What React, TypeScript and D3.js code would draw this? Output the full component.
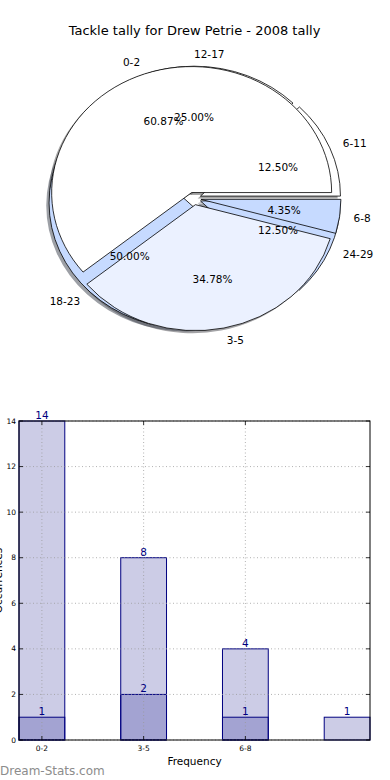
import * as d3 from "d3";

// pie 1 (drawn on top)
const pieALabels = ["0-2", "3-5", "6-8"];
const pieAValues = [14, 8, 1];
const pieAColors = ["#ffffff", "#ebf1ff", "#c6daff"];

// pie 2 (drawn underneath)
const pieBLabels = ["6-11", "12-17", "18-23", "24-29"];
const pieBValues = [1, 2, 4, 1];
const pieBColors = ["#ffffff", "#ffffff", "#c6daff", "#c6daff"];

// bars
const barLabels = ["0-2", "3-5", "6-8", ""];
const barTotals = [14, 8, 4, 1];
const barInner = [1, 2, 1];
const yTicks = [0, 2, 4, 6, 8, 10, 12, 14];

const FONT = "DejaVu Sans, Verdana, sans-serif";
const NAVY = "#000080";

const W = 390;
const H = 780;

// pie geometry (matplotlib style: ellipse because the axes is not square)
const cx = 194;
const cy = 198.5;
const rx = 140;
const ry = 126;
const k = ry / rx;
const explode = 0.05;

type Wedge = {
  label: string;
  value: number;
  pct: string;
  color: string;
  t1: number;
  t2: number;
  tm: number;
};

function wedges(values: number[], labels: string[], colors: string[]): Wedge[] {
  const total = d3.sum(values);
  const arcs = d3
    .pie<number>()
    .sort(null)
    .startAngle(0)
    .endAngle(2 * Math.PI)(values);
  return arcs.map((a, i) => ({
    label: labels[i],
    value: values[i],
    pct: ((values[i] / total) * 100).toFixed(2) + "%",
    color: colors[i],
    t1: a.startAngle,
    t2: a.endAngle,
    tm: (a.startAngle + a.endAngle) / 2,
  }));
}

const arcGen = d3.arc<any>();

function wedgePath(w: Wedge) {
  // matplotlib angles start at 3 o'clock and go counter-clockwise
  return arcGen({
    innerRadius: 0,
    outerRadius: rx,
    startAngle: Math.PI / 2 - w.t1,
    endAngle: Math.PI / 2 - w.t2,
  }) as string;
}

function shadowColor(c: string) {
  const col = d3.rgb(c);
  return d3.rgb(col.r * 0.3, col.g * 0.3, col.b * 0.3).toString();
}

function Pie() {
  const a = wedges(pieAValues, pieALabels, pieAColors);
  const b = wedges(pieBValues, pieBLabels, pieBColors);
  const all = [...a, ...b];

  const off = (w: Wedge) =>
    `translate(${explode * rx * Math.cos(w.tm)},${-explode * rx * Math.sin(w.tm)})`;

  return (
    <g>
      <g transform={`translate(${cx},${cy}) scale(1,${k})`}>
        {/* shadows below every wedge */}
        {all.map((w, i) => (
          <path
            key={"s" + i}
            transform={`translate(${-0.02 * rx},${0.02 * rx}) ${off(w)}`}
            d={wedgePath(w)}
            fill={shadowColor(w.color)}
            fillOpacity={0.5}
          />
        ))}
        {[...b, ...a].map((w, i) => (
          <path
            key={"w" + i}
            transform={off(w)}
            d={wedgePath(w)}
            fill={w.color}
            stroke="#000"
            strokeWidth={0.8}
            vectorEffect="non-scaling-stroke"
          />
        ))}
      </g>
      {all.map((w, i) => {
        const c = Math.cos(w.tm);
        const s = Math.sin(w.tm);
        return (
          <g key={"t" + i} fontFamily={FONT} fontSize={10.5} fill="#000">
            <text
              x={cx + (1.1 + explode) * rx * c}
              y={cy - (1.1 + explode) * ry * s}
              textAnchor={c > 0 ? "start" : "end"}
              dominantBaseline="central"
            >
              {w.label}
            </text>
            <text
              x={cx + (0.6 + explode) * rx * c}
              y={cy - (0.6 + explode) * ry * s}
              textAnchor="middle"
              dominantBaseline="central"
            >
              {w.pct}
            </text>
          </g>
        );
      })}
    </g>
  );
}

function Bars() {
  const left = 19;
  const right = 370;
  const top = 421;
  const bottom = 740;
  const bw = 0.45;

  const x = d3
    .scaleLinear()
    .domain([-bw / 2, barTotals.length - 1 + bw / 2])
    .range([left, right]);
  const y = d3.scaleLinear().domain([0, 14]).range([bottom, top]);
  const tickIdx = barLabels.map((l, i) => i).filter((i) => barLabels[i] !== "");

  const bar = (v: number, i: number, key: string) => (
    <rect
      key={key}
      x={x(i - bw / 2)}
      y={y(v)}
      width={x(bw) - x(0)}
      height={y(0) - y(v)}
      fill={NAVY}
      fillOpacity={0.2}
      stroke={NAVY}
      strokeWidth={1}
    />
  );

  const valueText = (v: number, i: number, key: string) => (
    <text
      key={key}
      x={x(i)}
      y={y(v) - 2}
      textAnchor="middle"
      fontFamily={FONT}
      fontSize={10.5}
      fill={NAVY}
    >
      {v}
    </text>
  );

  return (
    <g>
      {barTotals.map((v, i) => bar(v, i, "a" + i))}
      {barInner.map((v, i) => bar(v, i, "b" + i))}

      {/* grid */}
      <g stroke="#999" strokeWidth={1} strokeDasharray="1,2.5" opacity={0.75}>
        {yTicks.map((t) => (
          <line key={"gy" + t} x1={left} x2={right} y1={y(t)} y2={y(t)} />
        ))}
        {tickIdx.map((i) => (
          <line key={"gx" + i} x1={x(i)} x2={x(i)} y1={top} y2={bottom} />
        ))}
      </g>

      {/* frame */}
      <rect
        x={left}
        y={top}
        width={right - left}
        height={bottom - top}
        fill="none"
        stroke="#000"
        strokeWidth={1}
      />

      {/* ticks */}
      <g stroke="#000" strokeWidth={0.8}>
        {yTicks.map((t) => (
          <g key={"ty" + t}>
            <line x1={left} x2={left + 4} y1={y(t)} y2={y(t)} />
            <line x1={right} x2={right - 4} y1={y(t)} y2={y(t)} />
          </g>
        ))}
        {tickIdx.map((i) => (
          <g key={"tx" + i}>
            <line x1={x(i)} x2={x(i)} y1={bottom} y2={bottom - 4} />
            <line x1={x(i)} x2={x(i)} y1={top} y2={top + 4} />
          </g>
        ))}
      </g>

      <g fontFamily={FONT} fontSize={7.5} fill="#000">
        {yTicks.map((t) => (
          <text
            key={"ly" + t}
            x={left - 3}
            y={y(t)}
            textAnchor="end"
            dominantBaseline="central"
          >
            {t}
          </text>
        ))}
        {tickIdx.map((i) => (
          <text key={"lx" + i} x={x(i)} y={bottom + 11} textAnchor="middle">
            {barLabels[i]}
          </text>
        ))}
      </g>

      {barTotals.map((v, i) => valueText(v, i, "va" + i))}
      {barInner.map((v, i) => valueText(v, i, "vb" + i))}

      <text
        x={(left + right) / 2}
        y={765}
        textAnchor="middle"
        fontFamily={FONT}
        fontSize={10.5}
      >
        Frequency
      </text>
      <text
        transform={`translate(2,${(top + bottom) / 2}) rotate(-90)`}
        textAnchor="middle"
        fontFamily={FONT}
        fontSize={10.5}
      >
        Occurrences
      </text>
    </g>
  );
}

export default function App() {
  return (
    <div style={{ position: "absolute", left: 0, top: 0 }}>
      <svg width={W} height={H} style={{ display: "block", background: "#fff" }}>
        <text
          x={194.5}
          y={34.5}
          textAnchor="middle"
          fontFamily={FONT}
          fontSize={13}
          fill="#000"
        >
          Tackle tally for Drew Petrie - 2008 tally
        </text>
        <Pie />
        <Bars />
        <text x={0} y={774.5} fontFamily={FONT} fontSize={12} fill="#8c8c8c">
          Dream-Stats.com
        </text>
      </svg>
    </div>
  );
}
